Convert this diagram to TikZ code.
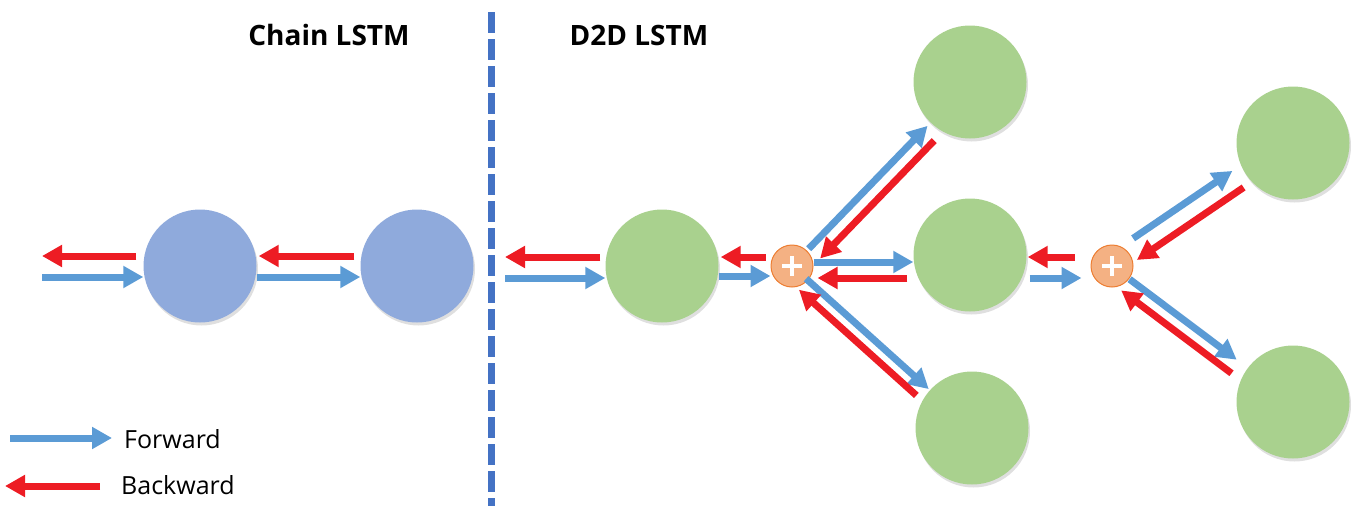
\documentclass[tikz,border=0pt]{standalone}
\usepackage{fontspec}
\setmainfont{Open Sans}
\usetikzlibrary{arrows.meta,calc,shadows}

\definecolor{fwdblue}{HTML}{5B9BD5}
\definecolor{bwdred}{HTML}{ED1C24}
\definecolor{chainblue}{HTML}{8FAADC}
\definecolor{cellgreen}{HTML}{A9D18E}
\definecolor{sumfill}{HTML}{F4B183}
\definecolor{sumline}{HTML}{ED7D31}
\definecolor{splitblue}{HTML}{4472C4}

\tikzset{
	lstmcell/.style={circle, minimum size=113pt, inner sep=0pt,
		drop shadow={shadow xshift=1.5pt, shadow yshift=-3pt, opacity=0.25}},
	chaincell/.style={lstmcell, fill=chainblue},
	treecell/.style={lstmcell, fill=cellgreen},
	adder/.style={circle, minimum size=42pt, inner sep=0pt,
		fill=sumfill, draw=sumline, line width=1pt,
		path picture={
			\draw[white, line width=4.5pt]
			([xshift=-10pt]path picture bounding box.center) -- ([xshift=10pt]path picture bounding box.center)
			([yshift=-10pt]path picture bounding box.center) -- ([yshift=10pt]path picture bounding box.center);
		}},
	fwd/.style={fwdblue, line width=7pt, -{Triangle[width=21pt,length=20pt]}},
	bwd/.style={bwdred, line width=7pt, -{Triangle[width=21pt,length=20pt]}},
	headline/.style={font=\fontsize{28}{32}\selectfont\bfseries},
	legendtext/.style={font=\fontsize{25}{30}\selectfont, inner sep=0pt, anchor=west}
}

\begin{document}
\begin{tikzpicture}[x=1pt,y=-1pt]
	
	\useasboundingbox (0,0) rectangle (1356,506);
	
	% Titles
	\node[headline] (chaintitle) at (329,35) {Chain LSTM};
	\node[headline] (treetitle) at (639,35) {D2D LSTM};
	
	% Divider
	\draw[splitblue, line width=7pt, dash pattern=on 21pt off 6pt] (491,12) -- (491,506);
	
	% Chain LSTM cells
	\node[chaincell] (b1) at (200,266) {};
	\node[chaincell] (b2) at (417,266) {};
	\coordinate (chainin) at (42,266);
	
	\draw[bwd, shorten <=7pt] ([yshift=10pt]b1.west) -- ([yshift=10pt]chainin);
	\draw[fwd] ([yshift=-11pt]chainin) -- ([yshift=-11pt]b1.west);
	\draw[bwd, shorten <=6pt, shorten >=2pt] ([yshift=10pt]b2.west) -- ([yshift=10pt]b1.east);
	\draw[fwd] ([yshift=-11pt]b1.east) -- ([yshift=-11pt]b2.west);
	
	% D2D LSTM cells
	\node[treecell] (g1) at (662,266) {};
	\node[treecell] (g2) at (970,82) {};
	\node[treecell] (g3) at (970,255) {};
	\node[treecell] (g4) at (972,428) {};
	\node[treecell] (g5) at (1293,143) {};
	\node[treecell] (g6) at (1293,402) {};
	\node[adder] (p1) at (792,266) {};
	\node[adder] (p2) at (1112,266) {};
	\coordinate (treein) at (505,266);
	
	% input of the first cell
	\draw[bwd, shorten <=5pt] ([yshift=9pt]g1.west) -- ([yshift=9pt]treein);
	\draw[fwd] ([yshift=-12pt]treein) -- ([yshift=-12pt]g1.west);
	
	% g1 -- p1
	\draw[bwd, shorten <=5pt, shorten >=2pt] ([yshift=9pt]p1.west) -- ([yshift=9pt]g1.east);
	\draw[fwd] ([yshift=-10pt]g1.east) -- ([yshift=-10pt]p1.west);
	
	% p1 -- g2, g3, g4
	\draw[fwd] ($(p1)!24pt!(g2)$) -- ($(p1)!195pt!(g2)$);
	\draw[bwd] ($(p1)!189pt!(g2)!15pt!-90:(g2)$) -- ($(p1)!25pt!(g2)!15pt!-90:(g2)$);
	\draw[fwd] ($(p1.east)+(0,4pt)$) -- ($(p1.east -| g3.west)+(0,4pt)$);
	\draw[bwd, shorten <=6pt, shorten >=4pt] ($(p1.east -| g3.west)+(0,-12pt)$) -- ($(p1.east)+(0,-12pt)$);
	\draw[fwd] ($(p1)!19pt!(g4)$) -- ($(p1)!184pt!(g4)$);
	\draw[bwd] ($(p1)!179pt!(g4)!13pt!-90:(g4)$) -- ($(p1)!21pt!(g4)!13pt!-90:(g4)$);
	
	% g3 -- p2
	\draw[bwd, shorten <=16pt, shorten >=1pt] ($(p2.west)+(0,9pt)$) -- ($(p2.west -| g3.east)+(0,9pt)$);
	\draw[fwd, shorten <=3pt, shorten >=9pt] ($(p2.west -| g3.east)+(0,-12pt)$) -- ($(p2.west)+(0,-12pt)$);
	
	% p2 -- g5, g6
	\draw[fwd] ($(p2)!33pt!(g5)!11pt!90:(g5)$) -- ($(p2)!153pt!(g5)!11pt!90:(g5)$);
	\draw[bwd] ($(p2)!153pt!(g5)!9pt!-90:(g5)$) -- ($(p2)!24pt!(g5)!9pt!-90:(g5)$);
	\draw[fwd] ($(p2)!22pt!(g6)$) -- ($(p2)!156pt!(g6)$);
	\draw[bwd] ($(p2)!160pt!(g6)!14pt!-90:(g6)$) -- ($(p2)!22pt!(g6)!14pt!-90:(g6)$);
	
	% Legend
	\node[legendtext] (fwdlbl) at (124,439) {Forward};
	\node[legendtext] (bwdlbl) at (121,485) {Backward};
	\coordinate (fwdtail) at (10,438);
	\coordinate (bwdtip) at (5,486);
	\draw[fwd, shorten >=12pt] (fwdtail) -- (fwdtail -| fwdlbl.west);
	\draw[bwd, shorten <=21pt] (bwdtip -| bwdlbl.west) -- (bwdtip);
	
\end{tikzpicture}
\end{document}
